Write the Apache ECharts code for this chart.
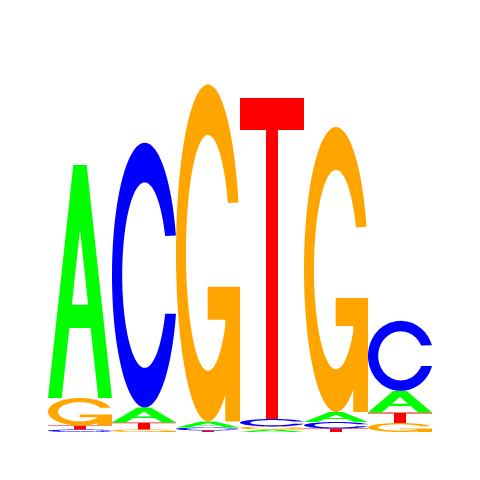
<!DOCTYPE html>
<html lang="en">
<head>
  <meta charset="UTF-8">
  <script src="https://cdn.jsdelivr.net/npm/echarts/dist/echarts.min.js"></script>
  <style>body{margin:0;background:#fff;}</style>
</head>
<body>
<div id="main" style="width:480px;height:480px;"></div>

<script>
  // information content (bits) per position, one array per base
  var positions = ['1', '2', '3', '4', '5', '6'];
  var bitsA = [1.214, 0.078, 0.031, 0.013, 0.052, 0.112];
  var bitsC = [0.013, 1.380, 0.016, 0.039, 0.034, 0.365];
  var bitsG = [0.143, 0.013, 1.755, 0.016, 1.484, 0.047];
  var bitsT = [0.021, 0.036, 0.008, 1.672, 0.018, 0.055];

  var letters = ['A', 'C', 'G', 'T'];
  var colors = ['#00ff00', '#0000ff', '#ffa500', '#ff0000'];

  // letter outlines in a 100x100 box, stretched to each stack cell
  function arc(cx, cy, rx, ry, a0, a1, n) {
    var pts = [];
    for (var s = 0; s <= n; s++) {
      var a = (a0 + (a1 - a0) * s / n) * Math.PI / 180;
      pts.push((cx + rx * Math.cos(a)).toFixed(2) + ',' + (cy + ry * Math.sin(a)).toFixed(2));
    }
    return pts;
  }

  var pathA = 'M0,100 L39.5,0 L60.5,0 L100,100 L78.5,100 L66.6,70 L33.4,70 L21.5,100 Z ' +
              'M37.3,60 L62.7,60 L50,27.8 Z';
  var pathC = 'M' + arc(50, 50, 50, 50, -17.46, -343.02, 90).join(' L') +
              ' L' + arc(50, 50, 34.4, 35, 24.65, 335.0, 90).join(' L') + ' Z';
  var pathG = 'M' + arc(50, 50, 50, 50, -17.46, -302.7, 90).join(' L') +
              ' L77,100 L100,100 L100,60 L49.5,60 L49.5,69.8 L77,69.8' +
              ' L' + arc(50, 50, 34.4, 35, 38.3, 335.0, 90).join(' L') + ' Z';
  var pathT = 'M0,0 L100,0 L100,10 L59.4,10 L59.4,100 L40.6,100 L40.6,10 L0,10 Z';
  var glyphs = [pathA, pathC, pathG, pathT];

  // stack: smallest at the bottom, tallest on top
  var stackData = [];
  for (var i = 0; i < positions.length; i++) {
    var col = [
      {k: 0, h: bitsA[i]}, {k: 1, h: bitsC[i]},
      {k: 2, h: bitsG[i]}, {k: 3, h: bitsT[i]}
    ];
    col.sort(function (a, b) { return a.h - b.h; });
    var y = 0;
    for (var j = 0; j < col.length; j++) {
      stackData.push([i, y, y + col[j].h, col[j].k]);
      y += col[j].h;
    }
  }

  var main = echarts.init(document.querySelector('#main'));
  main.setOption({
    backgroundColor: '#fff',
    animation: false,
    grid: {left: 48, right: 48, top: 48, bottom: 48},
    xAxis: {type: 'category', data: positions, show: false},
    yAxis: {type: 'value', min: 0, max: 2, show: false},
    series: [{
      type: 'custom',
      data: stackData,
      encode: {x: 0, y: [1, 2]},
      renderItem: function (params, api) {
        var bottom = api.coord([api.value(0), api.value(1)]);
        var top = api.coord([api.value(0), api.value(2)]);
        var w = api.size([1, 0])[0];
        var k = api.value(3);
        return {
          type: 'path',
          shape: {
            pathData: glyphs[k],
            layout: 'cover',
            x: bottom[0] - w / 2,
            y: top[1],
            width: w,
            height: bottom[1] - top[1]
          },
          style: {fill: colors[k]}
        };
      }
    }]
  });
</script>
</body>
</html>
